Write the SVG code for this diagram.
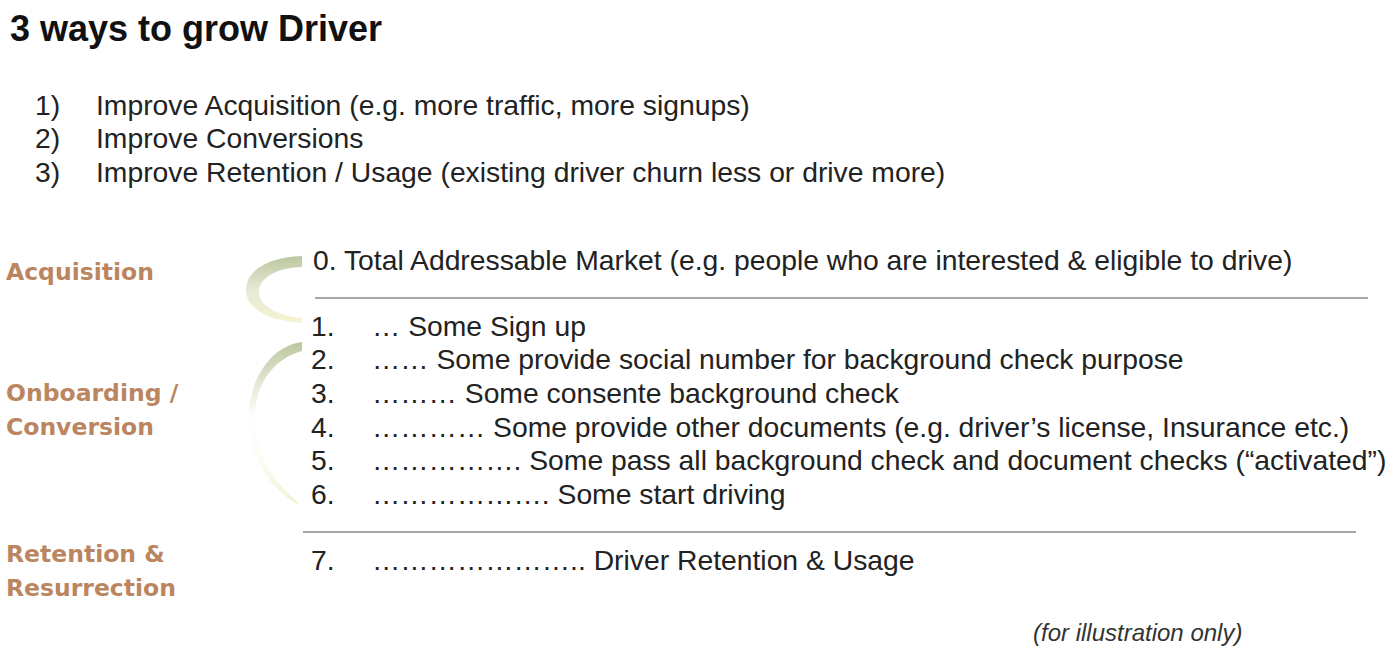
<svg xmlns="http://www.w3.org/2000/svg" width="1394" height="660" viewBox="0 0 1394 660">
  <style>
    .title { font-family: "Liberation Sans", Arial, sans-serif; font-weight: bold; font-size: 36px; fill: #111; }
    .body { font-family: "Liberation Sans", Arial, sans-serif; font-size: 28.3px; fill: #222; }
    .note { font-family: "Liberation Sans", Arial, sans-serif; font-style: italic; font-size: 24px; fill: #333; }
    .label { font-family: "DejaVu Sans", Verdana, sans-serif; font-weight: bold; font-size: 23.5px; fill: #bb865f; }
    .sep { stroke: #8a8a8a; stroke-width: 1.6; fill: none; }
  </style>
  <defs>
    <linearGradient id="br1" x1="0" y1="0" x2="0" y2="1">
      <stop offset="0" stop-color="#bcc79e"/>
      <stop offset="0.5" stop-color="#e6e9d4"/>
      <stop offset="1" stop-color="#f5f3d2"/>
    </linearGradient>
    <linearGradient id="br2" x1="0" y1="0" x2="0" y2="1">
      <stop offset="0" stop-color="#bcc79c"/>
      <stop offset="0.28" stop-color="#e8ebda"/>
      <stop offset="0.45" stop-color="#fdfdfa"/>
      <stop offset="0.72" stop-color="#fdfdf7"/>
      <stop offset="1" stop-color="#f3f1d0"/>
    </linearGradient>
  </defs>
  <rect width="1394" height="660" fill="#ffffff"/>

  <g id="title"><text class="title" x="10" y="41">3 ways to grow Driver</text></g>

  <g id="ways">
    <text class="body" x="35" y="115">1)</text>
    <text class="body" x="96" y="115">Improve Acquisition (e.g. more traffic, more signups)</text>
    <text class="body" x="35" y="148">2)</text>
    <text class="body" x="96" y="148">Improve Conversions</text>
    <text class="body" x="35" y="182">3)</text>
    <text class="body" x="96" y="182">Improve Retention / Usage (existing driver churn less or drive more)</text>
  </g>

  <g id="stage-labels">
    <text class="label" x="6" y="280">Acquisition</text>
    <text class="label" x="6" y="401">Onboarding /</text>
    <text class="label" x="6" y="435">Conversion</text>
    <text class="label" x="6" y="562">Retention &amp;</text>
    <text class="label" x="6" y="596">Resurrection</text>
  </g>

  <g id="brackets">
    <path id="bracket-acquisition" fill="url(#br1)" d="M302,256 C266,257 246,272 246,290 C246,308 268,321 302,323 L302,318 C278,316 259,306 259,292 C259,279 274,268 302,267 Z"/>
    <path id="bracket-onboarding" fill="url(#br2)" d="M302,342 C272,346 252,376 249,410 C246,450 264,484 298,505 L298,502 C272,482 255,450 255,415 C256,381 276,358 302,351 Z"/>
  </g>

  <g id="connectors">
    <line class="sep" x1="315" y1="298" x2="1368" y2="298"/>
    <line class="sep" x1="303" y1="532" x2="1356" y2="532"/>
  </g>

  <g id="funnel">
    <text class="body" x="313" y="270">0. Total Addressable Market (e.g. people who are interested &amp; eligible to drive)</text>
    <text class="body" x="311" y="336">1.</text>
    <text class="body" x="372" y="336">… Some Sign up</text>
    <text class="body" x="311" y="369">2.</text>
    <text class="body" x="372" y="369">…… Some provide social number for background check purpose</text>
    <text class="body" x="311" y="403">3.</text>
    <text class="body" x="372" y="403">……… Some consente background check</text>
    <text class="body" x="311" y="437">4.</text>
    <text class="body" x="372" y="437">………… Some provide other documents (e.g. driver’s license, Insurance etc.)</text>
    <text class="body" x="311" y="470">5.</text>
    <text class="body" x="372" y="470">……………. Some pass all background check and document checks (“activated”)</text>
    <text class="body" x="311" y="504">6.</text>
    <text class="body" x="372" y="504">………………. Some start driving</text>
    <text class="body" x="311" y="570">7.</text>
    <text class="body" x="372" y="570">………………….. Driver Retention &amp; Usage</text>
  </g>

  <g id="footnote"><text class="note" x="1033" y="641">(for illustration only)</text></g>
</svg>
